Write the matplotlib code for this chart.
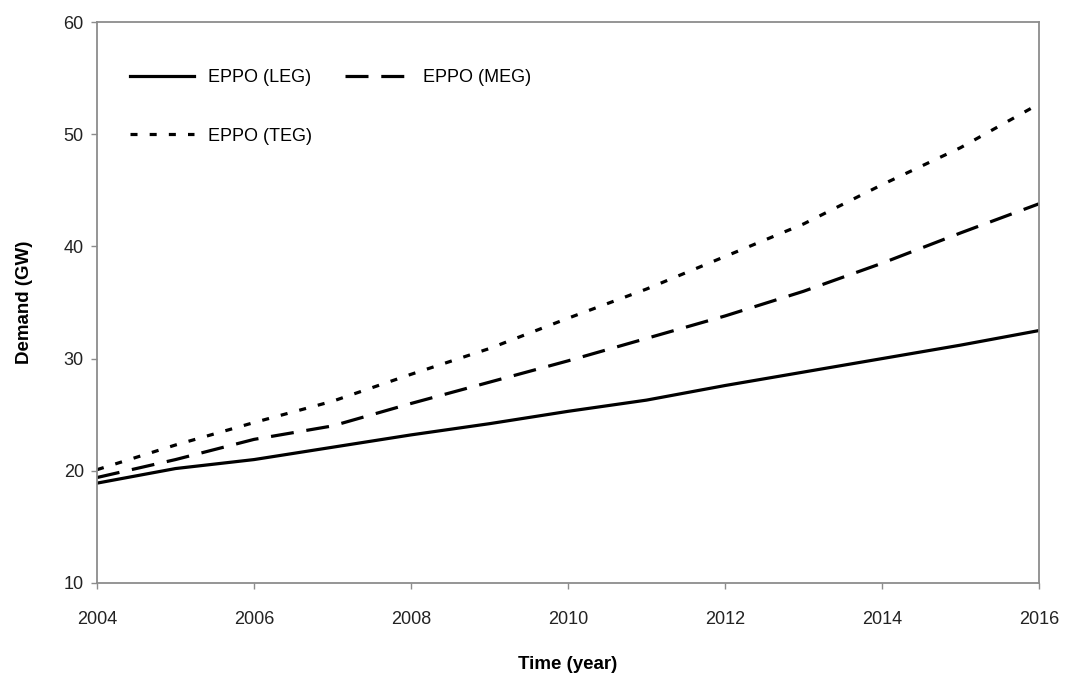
import numpy as np
import matplotlib.pyplot as plt

plt.rcParams['font.family'] = ['Liberation Sans', 'DejaVu Sans']

years = np.arange(2004, 2017)
leg = [18.9, 20.2, 21.0, 22.1, 23.2, 24.2, 25.3, 26.3, 27.6, 28.8, 30.0, 31.2, 32.5]
meg = [19.4, 21.0, 22.8, 24.0, 26.0, 27.9, 29.8, 31.8, 33.8, 36.0, 38.5, 41.2, 43.8]
teg = [20.1, 22.3, 24.3, 26.2, 28.6, 30.9, 33.6, 36.2, 39.1, 42.0, 45.5, 48.8, 52.7]

fig = plt.figure(figsize=(10.67, 6.75), dpi=100)
ax = fig.add_axes([0.0909, 0.1363, 0.8829, 0.8311])

lw = 2.3
l1, = ax.plot(years, leg, color='black', lw=lw, label='EPPO (LEG)')
l2, = ax.plot(years, meg, color='black', lw=lw, dashes=(7.2, 4.0), label='EPPO (MEG)')
l3, = ax.plot(years, teg, color='black', lw=lw, dashes=(2.2, 3.8), label='EPPO (TEG)')

ax.set_xlim(2004, 2016)
ax.set_ylim(10, 60)
ax.set_xticks(range(2004, 2017, 2))
ax.set_yticks(range(10, 61, 10))

for s in ax.spines.values():
    s.set_color('#8c8c8c')
    s.set_linewidth(1.3)
ax.tick_params(colors='#8c8c8c', labelcolor='#222222', labelsize=13, length=4.5, width=1)
ax.tick_params(axis='x', pad=16)
ax.tick_params(axis='y', pad=5)

ax.set_xlabel('Time (year)', fontsize=13.5, fontweight='bold', va='center')
ax.set_ylabel('Demand (GW)', fontsize=13.5, fontweight='bold', va='center')
ax.xaxis.set_label_coords(0.5, -0.146)
ax.yaxis.set_label_coords(-0.077, 0.5)

ax.legend([l1, l3, l2], ['EPPO (LEG)', 'EPPO (TEG)', 'EPPO (MEG)'], ncol=2,
          frameon=False, fontsize=13, loc='upper left', bbox_to_anchor=(0.018, 0.945),
          labelspacing=2.3, columnspacing=1.8, handlelength=3.55, handletextpad=0.78)

fig.savefig('out.png', dpi=100)
